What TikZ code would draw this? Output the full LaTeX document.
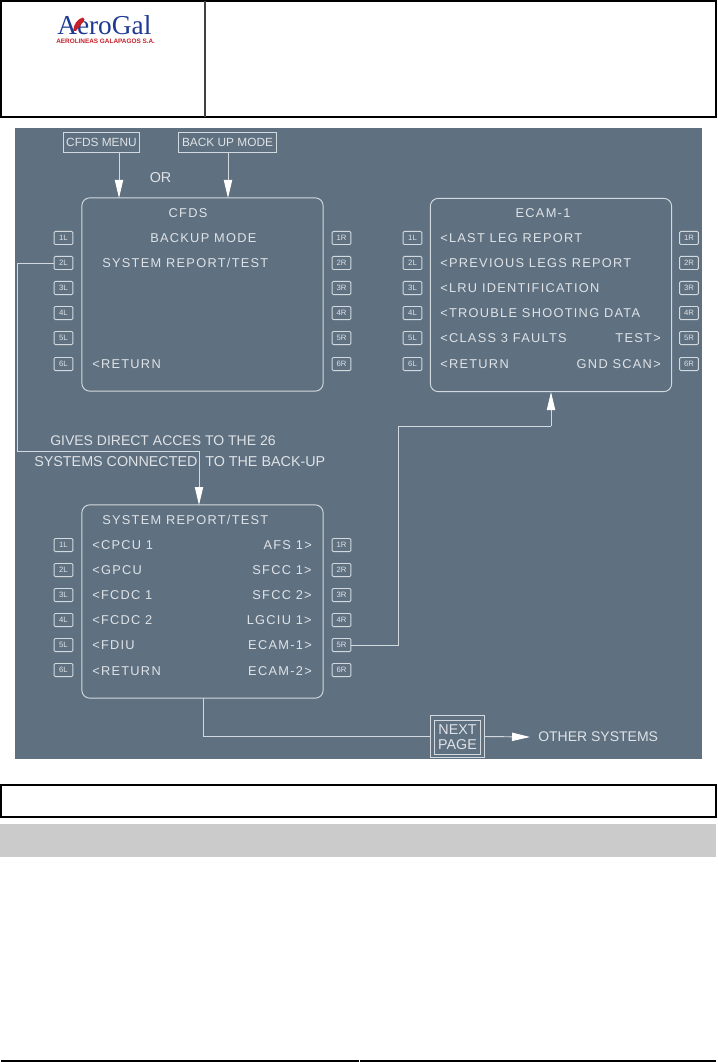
\documentclass[tikz,border=0pt]{standalone}
\usepackage{fontspec}
\usetikzlibrary{arrows.meta}
\setmainfont{Liberation Sans}
\newfontfamily\scr[LetterSpace=10]{Liberation Sans}
\newfontfamily\logofont{Liberation Serif}
\definecolor{panel}{HTML}{5F7080}
\definecolor{linec}{HTML}{D3DADF}
\definecolor{textc}{HTML}{DFE3E7}
\definecolor{logoblue}{HTML}{1F3A93}
\definecolor{logored}{HTML}{C8202A}
\definecolor{bandgray}{HTML}{CBCBCB}
\tikzset{
  frameline/.style={draw=black,line width=1.5pt},
  wire/.style={draw=linec,line width=0.7pt},
  arrowwire/.style={wire,-{Triangle[length=13.5pt,width=6.2pt,color=white]}},
  keybox/.style={draw=linec,line width=0.7pt,rounded corners=0.8pt,minimum width=14pt,minimum height=9.8pt,inner sep=0pt,text=textc,font=\fontsize{5.8}{6}\selectfont},
  screen/.style={draw=linec,line width=0.7pt,rounded corners=6pt,minimum width=181pt,minimum height=145pt,inner sep=0pt},
  tag/.style={draw=linec,line width=0.7pt,minimum height=15.5pt,inner sep=0pt,text=textc,font=\fontsize{8.9}{11}\selectfont},
  scrtext/.style={text=textc,inner sep=0pt,font=\scr\fontsize{9.6}{11}\selectfont},
  lefttext/.style={scrtext,anchor=west},
  righttext/.style={scrtext,anchor=east},
  bigtext/.style={text=textc,inner sep=0pt,font=\fontsize{10.75}{13}\selectfont},
  longtext/.style={text=textc,inner sep=0pt,anchor=west,font=\fontsize{10.5}{13}\selectfont},
}
\begin{document}
\begin{tikzpicture}[x=0.75pt,y=-0.75pt]
\useasboundingbox (0,0) rectangle (717,1062);
\fill[white] (0,0) rectangle (717,1062);
% page frames
\draw[frameline] (1,1) rectangle (716,117);
\draw[frameline,draw=black!75,line width=1.2pt] (205,1) -- (205,117);
\draw[frameline] (1,785) rectangle (716,817);
\fill[bandgray] (0,824) rectangle (716,857);
\draw[frameline] (1,1061) -- (359,1061);
\draw[frameline] (360,1061) -- (716,1061);
% logo
\node[inner sep=0pt,anchor=west,text=logoblue,font=\logofont\fontsize{20.5}{22}\selectfont] (logo) at (57,25.5) {AeroGal};
\fill[logored] (73,31) .. controls (74,24) and (77,19) .. (83,17.5) .. controls (85,18) and (85,21) .. (83,22) .. controls (81,25) and (78,28) .. (76,31) -- cycle;
\node[inner sep=0pt,anchor=west,text=logored,font=\bfseries\fontsize{4.8}{6}\selectfont] (logosub) at (56,41.5) {AEROLINEAS GALAPAGOS S.A.};
% panel
\fill[panel] (15,128) rectangle (702,759);
% screens
\node[screen] (cfds) at (202.5,294.5) {};
\node[screen] (ecam) at (551,295) {};
\node[screen] (sys) at (202.5,601.5) {};
% keys
\foreach \y [count=\i] in {238,263,288,313,338,364}{
  \node[keybox] (cL\i) at (63.5,\y) {\i L};
  \node[keybox] (cR\i) at (341.5,\y) {\i R};
  \node[keybox] (eL\i) at (412.5,\y) {\i L};
  \node[keybox] (eR\i) at (689,\y) {\i R};
}
\foreach \y [count=\i] in {545,570,595,620,645,670}{
  \node[keybox] (sL\i) at (63.5,\y) {\i L};
  \node[keybox] (sR\i) at (341.5,\y) {\i R};
}
% tags
\node[tag,minimum width=57pt] (menu) at (101.5,142.5) {CFDS MENU};
\node[tag,minimum width=73pt] (backup) at (227.5,142.5) {BACK UP MODE};
\node[bigtext] (ortext) at (160.5,178) {OR};
% CFDS text
\node[scrtext] (t1) at (188,213) {CFDS};
\node[lefttext] (t2) at (150,238) {BACKUP MODE};
\node[lefttext] (t3) at (102,263) {SYSTEM REPORT/TEST};
\node[lefttext] (t4) at (92,364.5) {<RETURN};
% ECAM text
\node[scrtext] (e0) at (543,213) {ECAM-1};
\node[lefttext] (e1) at (440,238) {<LAST LEG REPORT};
\node[lefttext] (e2) at (440,263) {<PREVIOUS LEGS REPORT};
\node[lefttext] (e3) at (440,288) {<LRU IDENTIFICATION};
\node[lefttext] (e4) at (440,313) {<TROUBLE SHOOTING DATA};
\node[lefttext] (e5) at (440,338) {<CLASS 3 FAULTS};
\node[lefttext] (e6) at (440,364) {<RETURN};
\node[righttext] (e7) at (661,338) {TEST>};
\node[righttext] (e8) at (661,364) {GND SCAN>};
% SYSTEM text
\node[lefttext] (s0) at (102,520) {SYSTEM REPORT/TEST};
\node[lefttext] (s1) at (92,545) {<CPCU 1};
\node[lefttext] (s2) at (92,570) {<GPCU};
\node[lefttext] (s3) at (92,595) {<FCDC 1};
\node[lefttext] (s4) at (92,620) {<FCDC 2};
\node[lefttext] (s5) at (92,645) {<FDIU};
\node[lefttext] (s6) at (92,671) {<RETURN};
\node[righttext] (r1) at (312,545) {AFS 1>};
\node[righttext] (r2) at (312,570) {SFCC 1>};
\node[righttext] (r3) at (312,595) {SFCC 2>};
\node[righttext] (r4) at (312,620) {LGCIU 1>};
\node[righttext] (r5) at (312,645) {ECAM-1>};
\node[righttext] (r6) at (312,671) {ECAM-2>};
% notes
\node[longtext] (n1) at (50,441) {GIVES DIRECT ACCES TO THE 26};
\node[bigtext,anchor=west] (n2) at (34,461.5) {SYSTEMS CONNECTED};
\node[bigtext,anchor=west] (n3) at (205,461.5) {TO THE BACK-UP};
% next page
\node[draw=linec,line width=0.7pt,minimum width=40pt,minimum height=31pt,inner sep=0pt] (nextouter) at (457.5,736.5) {};
\node[draw=linec,line width=0.7pt,minimum width=35pt,minimum height=25.5pt,inner sep=0pt,text=textc,align=center,font=\fontsize{10.7}{11.3}\selectfont] (next) at (457.5,737) {NEXT\\PAGE};
\node[longtext] (other) at (538,737) {OTHER SYSTEMS};
% connectors
\coordinate (cfdsA) at (119,198);
\coordinate (cfdsB) at (228,198);
\coordinate (sysIn) at (199,505);
\coordinate (sysOut) at (203,698);
\coordinate (ecamIn) at (551,392);
\coordinate (j1) at (17.5,451);
\coordinate (j2) at (398,426);
\coordinate (otherTip) at (530,737);
\draw[arrowwire] (cfdsA |- menu.south) -- (cfdsA);
\draw[arrowwire] (cfdsB |- backup.south) -- (cfdsB);
\draw[wire] (cL2.west) -| (j1) -- (j1 -| sysIn);
\draw[arrowwire] (j1 -| sysIn) -- (sysIn);
\draw[wire] (sR5.east) -| (j2) -- (j2 -| ecamIn);
\draw[arrowwire] (j2 -| ecamIn) -- (ecamIn);
\draw[wire] (sysOut) |- (nextouter.west);
\draw[arrowwire] (nextouter.east) -- (otherTip);
\end{tikzpicture}
\end{document}
